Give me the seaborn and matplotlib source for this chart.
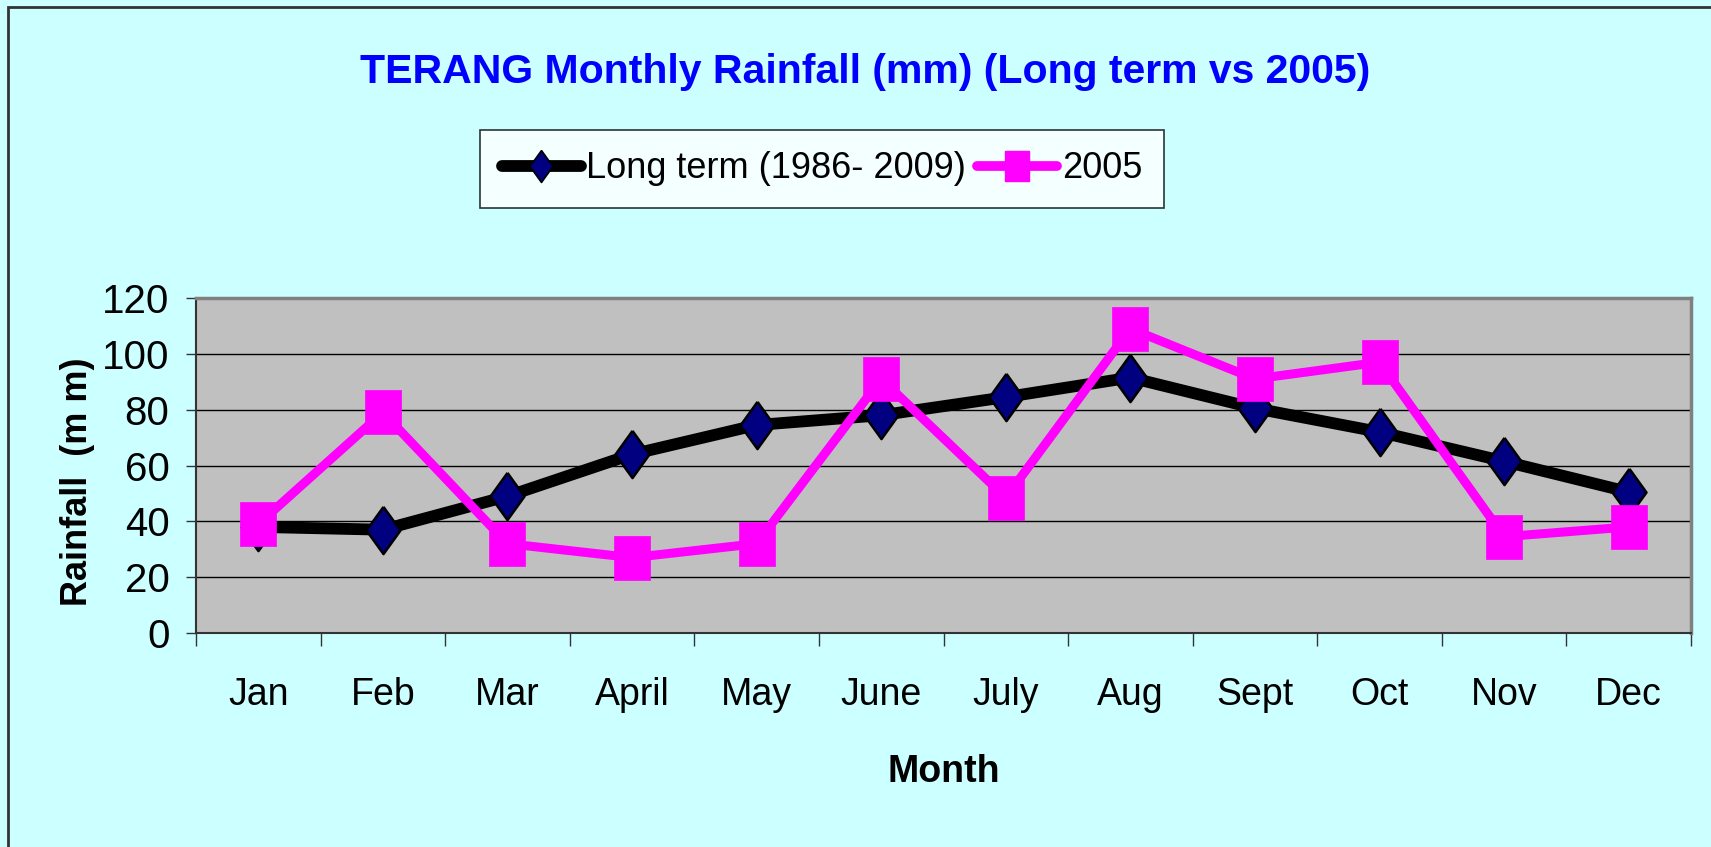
import numpy as np
import pandas as pd
import matplotlib
matplotlib.use("Agg")
import matplotlib.pyplot as plt
import seaborn as sns
from matplotlib.patches import Rectangle
from matplotlib.lines import Line2D

# data
months = ["Jan", "Feb", "Mar", "April", "May", "June", "July", "Aug", "Sept", "Oct", "Nov", "Dec"]
long_term = [38, 37, 49, 64, 74.5, 78, 84.5, 91.5, 80.5, 72, 61.5, 50.5]
rain_2005 = [39, 79, 32, 27, 32, 91, 48.5, 109, 91, 97, 34.5, 38]
yticks = [0, 20, 40, 60, 80, 100, 120]

sns.set_style("white")
plt.rcParams['font.family'] = ['Liberation Sans', 'DejaVu Sans']
plt.rcParams['text.color'] = 'black'
plt.rcParams['xtick.color'] = 'black'
plt.rcParams['ytick.color'] = 'black'
plt.rcParams['axes.labelcolor'] = 'black'

df = pd.DataFrame({"Month": months, "Long term (1986- 2009)": long_term, "2005": rain_2005})

fig = plt.figure(figsize=(17.11, 8.47), dpi=100, facecolor="#CCFFFF")
ax = fig.add_axes([196 / 1711, 1 - 633 / 847, 1495 / 1711, 335 / 847])
ax.set_facecolor("#C0C0C0")

# figure border (left + top only visible)
fig.patches.append(Rectangle((8 / 1711, -0.5), 2, 1.5 - 7 / 847, transform=fig.transFigure,
                             fill=False, edgecolor="#333333", linewidth=2, zorder=0))

diamond = [(0, 1), (0.72, 0), (0, -1), (-0.72, 0), (0, 1)]
box = [(-0.42, -0.5), (0.42, -0.5), (0.42, 0.5), (-0.42, 0.5), (-0.42, -0.5)]

sns.lineplot(data=df, x="Month", y="Long term (1986- 2009)", ax=ax, sort=False,
             color="black", linewidth=8.5, marker=diamond, markersize=34,
             markerfacecolor="#000080", markeredgecolor="black", markeredgewidth=1.8, zorder=3)
sns.lineplot(data=df, x="Month", y="2005", ax=ax, sort=False,
             color="#FF00FF", linewidth=6.5, marker=box, markersize=31,
             markerfacecolor="#FF00FF", markeredgecolor="#FF00FF", markeredgewidth=0.5, zorder=4)

ax.set_xlim(-0.5, len(months) - 0.5)
ax.set_ylim(0, 120)
ax.set_yticks(yticks)
ax.yaxis.grid(True, color="black", linewidth=1)
ax.set_axisbelow(True)

# category boundary ticks, labels in the middle
ax.set_xticks(np.arange(-0.5, len(months), 1.0))
ax.set_xticklabels([])
ax.set_xticks(np.arange(len(months)), minor=True)
ax.set_xticklabels(months, minor=True)
ax.tick_params(axis="x", which="major", direction="out", length=9, width=1, color="#333333", bottom=True)
ax.tick_params(axis="x", which="minor", length=0, pad=32, labelsize=27)
ax.tick_params(axis="y", direction="out", length=7, width=1, color="#333333", pad=12, labelsize=29, left=True)

for s in ["top", "right"]:
    ax.spines[s].set_color("#808080")
    ax.spines[s].set_linewidth(2.5)
for s in ["left", "bottom"]:
    ax.spines[s].set_color("#333333")
    ax.spines[s].set_linewidth(1.5)

ax.set_xlabel("Month", fontsize=27, fontweight="bold")
ax.xaxis.set_label_coords(0.5, (633 - 772) / 335)
ax.xaxis.label.set_va("center")
ax.set_ylabel("Rainfall  (m m)", fontsize=26, fontweight="bold")
ax.yaxis.set_label_coords(-0.079, 0.452)
ax.yaxis.label.set_va("center")

fig.text(865 / 1711, 1 - 72 / 847, "TERANG Monthly Rainfall (mm) (Long term vs 2005)",
         ha="center", va="center", fontsize=29.5, fontweight="bold", color="#0000FF")

handles = [
    Line2D([], [], color="black", linewidth=8.5, marker=diamond, markersize=23,
           markerfacecolor="#000080", markeredgecolor="black", markeredgewidth=1.2),
    Line2D([], [], color="#FF00FF", linewidth=7, marker=box, markersize=21,
           markerfacecolor="#FF00FF", markeredgecolor="#FF00FF"),
]
leg = fig.legend(handles, ["Long term (1986- 2009)", "2005"], ncol=2, loc="center",
                 bbox_to_anchor=(822 / 1711, 1 - 169 / 847), bbox_transform=fig.transFigure,
                 fontsize=26, frameon=True, fancybox=False, handlelength=2.2,
                 handletextpad=0.15, columnspacing=0.3, borderpad=0.6, borderaxespad=0)
leg.get_frame().set_edgecolor("black")
leg.get_frame().set_linewidth(1.2)
leg.get_frame().set_facecolor("white")

fig.savefig("out.png", dpi=100, facecolor=fig.get_facecolor())
